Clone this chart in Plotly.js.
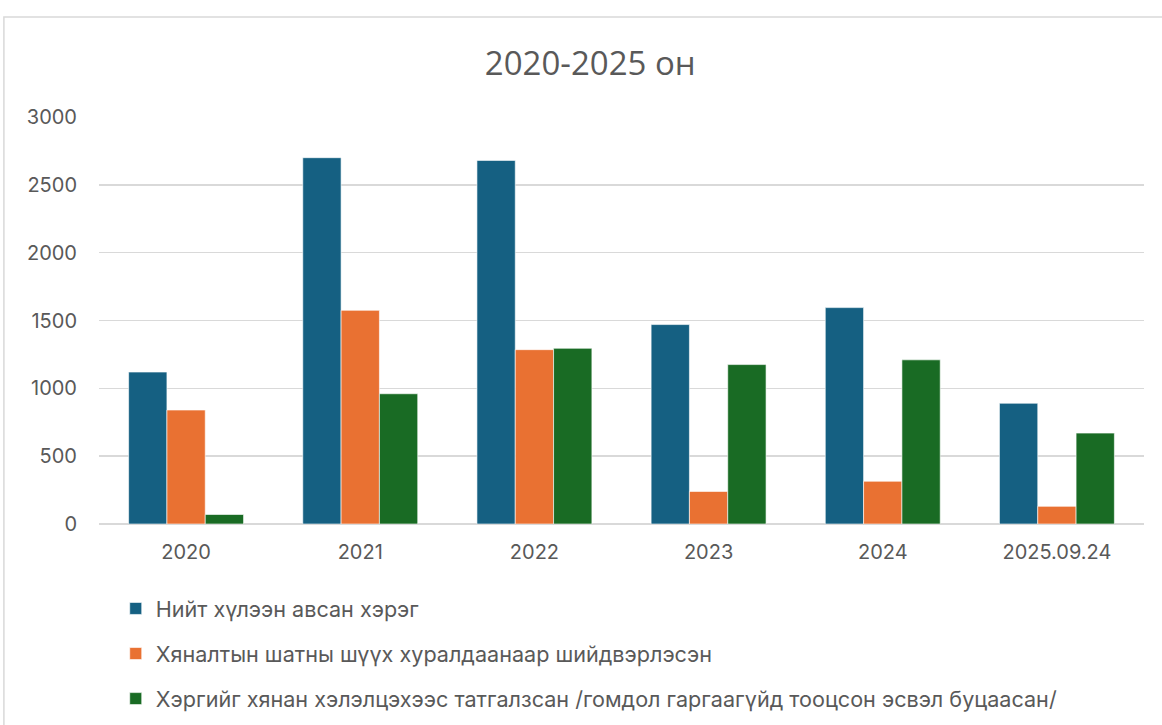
<!DOCTYPE html>
<html><head><meta charset="utf-8">
<script src="https://cdn.plot.ly/plotly-3.0.1.min.js"></script>
<style>html,body{margin:0;padding:0;background:#fff;}#chart{width:1162px;height:725px;}</style>
</head><body><div id="chart"></div>
<script>
const categories = ["2020","2021","2022","2023","2024","2025.09.24"];
const seriesNames = [
  "Нийт хүлээн авсан хэрэг",
  "Хяналтын шатны шүүх хуралдаанаар шийдвэрлэсэн",
  "Хэргийг хянан хэлэлцэхээс татгалзсан /гомдол гаргаагүйд тооцсон эсвэл буцаасан/"
];
const totalReceived = [1120, 2700, 2680, 1470, 1595, 890];
const decided = [840, 1575, 1285, 240, 315, 130];
const declined = [70, 960, 1295, 1175, 1210, 670];
const colors = ["#156082", "#E97132", "#196B24"];
const yTicks = [0, 500, 1000, 1500, 2000, 2500, 3000];

const values = [totalReceived, decided, declined];
const traces = values.map((v, i) => ({
  type: "bar", x: categories, y: v, name: seriesNames[i],
  legendgroup: "g" + i,
  marker: {color: colors[i], line: {color: "rgba(255,255,255,0.6)", width: 1}},
  hoverinfo: "y"
}));

const layout = {
  width: 1162, height: 725,
  margin: {l: 99, r: 18, t: 117, b: 201, autoexpand: false},
  paper_bgcolor: "#fff", plot_bgcolor: "#fff",
  font: {family: "Inter, 'Open Sans', sans-serif", color: "#595959", size: 20},
  title: {text: "2020-2025 он", xref: "container", x: 0.508, xanchor: "center", y: 0.913, yanchor: "middle",
          font: {family: "'Open Sans', sans-serif", size: 33, color: "#595959"}},
  barmode: "group", bargap: 0.34, bargroupgap: 0,
  xaxis: {type: "category", showgrid: false, showline: false, zeroline: false, ticks: "",
          ticklabelstandoff: 14, tickfont: {size: 20, color: "#595959"}},
  yaxis: {range: [0, 3000], tickvals: yTicks, showgrid: true, gridcolor: "#d9d9d9", gridwidth: 1.5,
          zeroline: true, zerolinecolor: "#d9d9d9", zerolinewidth: 1.5, ticks: "", ticklabelstandoff: 21,
          tickfont: {size: 20, color: "#595959"}},
  showlegend: true,
  legend: {orientation: "v", x: 0.016, xanchor: "left", y: -0.157, yanchor: "top",
           traceorder: "grouped", tracegroupgap: 14, itemwidth: 30,
           font: {size: 21.6, color: "#595959"}},
  shapes: [{type: "rect", xref: "paper", yref: "paper", x0: -0.091, x1: 1.1, y0: -0.6, y1: 1.246,
            line: {color: "#d9d9d9", width: 1.5}, fillcolor: "rgba(0,0,0,0)"}]
};
Plotly.newPlot("chart", traces, layout, {displayModeBar: false, staticPlot: true});
</script></body></html>
